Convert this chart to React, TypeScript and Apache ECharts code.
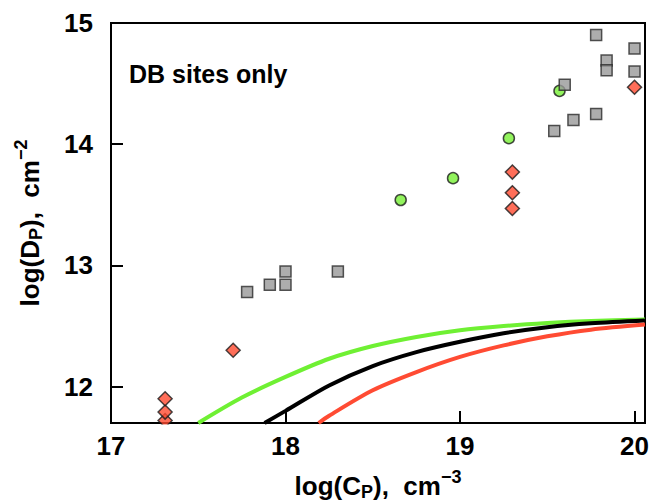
import React, { useEffect, useRef } from "react";
import * as echarts from "echarts";

// Measured sites: log concentration (x) vs log areal density (y)
const squareX = [17.78, 17.91, 18.0, 18.0, 18.3, 19.54, 19.6, 19.65, 19.78, 19.78, 19.84, 19.84, 20.0, 20.0];
const squareY = [12.78, 12.84, 12.84, 12.95, 12.95, 14.11, 14.49, 14.2, 14.25, 14.9, 14.69, 14.61, 14.6, 14.79];

const circleX = [18.66, 18.96, 19.28, 19.57];
const circleY = [13.54, 13.72, 14.05, 14.44];

const diamondX = [17.31, 17.31, 17.31, 17.7, 19.3, 19.3, 19.3, 20.0];
const diamondY = [11.72, 11.79, 11.9, 12.3, 13.47, 13.6, 13.77, 14.47];

// Model curves
const greenCurveX = [17.5, 17.75, 18.0, 18.25, 18.5, 18.75, 19.0, 19.25, 19.5, 19.75, 20.06];
const greenCurveY = [11.7, 11.91, 12.08, 12.23, 12.335, 12.41, 12.465, 12.5, 12.525, 12.542, 12.553];

const blackCurveX = [17.88, 18.0, 18.25, 18.5, 18.75, 19.0, 19.25, 19.5, 19.75, 20.06];
const blackCurveY = [11.7, 11.8, 12.01, 12.17, 12.285, 12.37, 12.44, 12.49, 12.522, 12.545];

const redCurveX = [18.19, 18.25, 18.5, 18.75, 19.0, 19.25, 19.5, 19.75, 20.06];
const redCurveY = [11.7, 11.76, 11.97, 12.12, 12.245, 12.34, 12.415, 12.47, 12.512];

const xTicks = [17, 18, 19, 20];
const yTicks = [12, 13, 14, 15];

const FONT = '"Liberation Sans", Arial, Helvetica, sans-serif';

const pairs = (xs: number[], ys: number[]) => xs.map((x, i) => [x, ys[i]]);

// main text, subscript (lowered) and superscript (raised)
const nameRich = {
  m: { fontSize: 26, fontWeight: "bold", fontFamily: FONT, color: "#000", lineHeight: 30 },
  s: { fontSize: 18, fontWeight: "bold", fontFamily: FONT, color: "#000", lineHeight: 16, padding: [12, 0, 0, 0] },
  p: { fontSize: 18, fontWeight: "bold", fontFamily: FONT, color: "#000", lineHeight: 16, padding: [0, 0, 18, 0] },
};

export default function App() {
  const ref = useRef<HTMLDivElement>(null);

  useEffect(() => {
    document.body.style.margin = "0";
    const chart = echarts.init(ref.current!, null, { renderer: "svg" });

    const axisLine = { lineStyle: { color: "#000", width: 2 } };
    const labelStyle = { fontSize: 26, fontWeight: "bold", fontFamily: FONT, color: "#000" };
    const curve = (xs: number[], ys: number[], color: string) => ({
      type: "line",
      data: pairs(xs, ys),
      smooth: 0.3,
      symbol: "none",
      lineStyle: { color, width: 4 },
      z: 1,
    });

    chart.setOption({
      animation: false,
      grid: {
        left: 111,
        right: 5,
        top: 23,
        bottom: 81,
        outerBoundsMode: "none",
        containLabel: false,
        show: true,
        borderColor: "#000",
        borderWidth: 2,
      },
      xAxis: {
        type: "value",
        min: 17,
        max: 20.06,
        name: "{m|log(C}{s|P}{m|),  cm}{p|−3}",
        nameLocation: "middle",
        nameGap: 48,
        nameTextStyle: { rich: nameRich },
        axisLine,
        axisTick: { inside: true, length: 12, lineStyle: { color: "#000", width: 2 }, customValues: xTicks },
        axisLabel: { ...labelStyle, margin: 10, customValues: xTicks },
        splitLine: { show: false },
      },
      yAxis: {
        type: "value",
        min: 11.7,
        max: 15,
        name: "{m|log(D}{s|P}{m|),  cm}{p|−2}",
        nameLocation: "middle",
        nameGap: 66,
        nameTextStyle: { rich: nameRich },
        axisLine,
        axisTick: { inside: true, length: 12, lineStyle: { color: "#000", width: 2 }, customValues: yTicks },
        axisLabel: { ...labelStyle, margin: 18, customValues: yTicks },
        splitLine: { show: false },
      },
      series: [
        curve(greenCurveX, greenCurveY, "#6ff033"),
        curve(blackCurveX, blackCurveY, "#000"),
        curve(redCurveX, redCurveY, "#ff4b33"),
        {
          type: "scatter",
          data: pairs(circleX, circleY),
          symbol: "circle",
          symbolSize: 11,
          itemStyle: { color: "#77f035", borderColor: "#1a1a1a", borderWidth: 1.5 },
          z: 3,
        },
        {
          type: "scatter",
          data: pairs(diamondX, diamondY),
          symbol: "diamond",
          symbolSize: 14,
          itemStyle: { color: "#ff4a30", borderColor: "#1a1a1a", borderWidth: 1.5 },
          z: 4,
        },
        {
          type: "scatter",
          data: pairs(squareX, squareY),
          symbol: "rect",
          symbolSize: 11,
          itemStyle: { color: "#999999", borderColor: "#2b2b2b", borderWidth: 1.5 },
          z: 5,
        },
      ],
      graphic: [
        {
          type: "text",
          x: 129,
          y: 74,
          z: 10,
          style: {
            text: "DB sites only",
            font: `bold 25px ${FONT}`,
            fill: "#000",
            align: "left",
            verticalAlign: "middle",
          },
        },
        {
          // hide the part of edge markers hanging below the plot frame
          type: "rect",
          silent: true,
          z: 10,
          shape: { x: 150, y: 424.5, width: 30, height: 9 },
          style: { fill: "#fff" },
        },
      ],
    });

    return () => chart.dispose();
  }, []);

  return <div ref={ref} style={{ width: 650, height: 504 }} />;
}
